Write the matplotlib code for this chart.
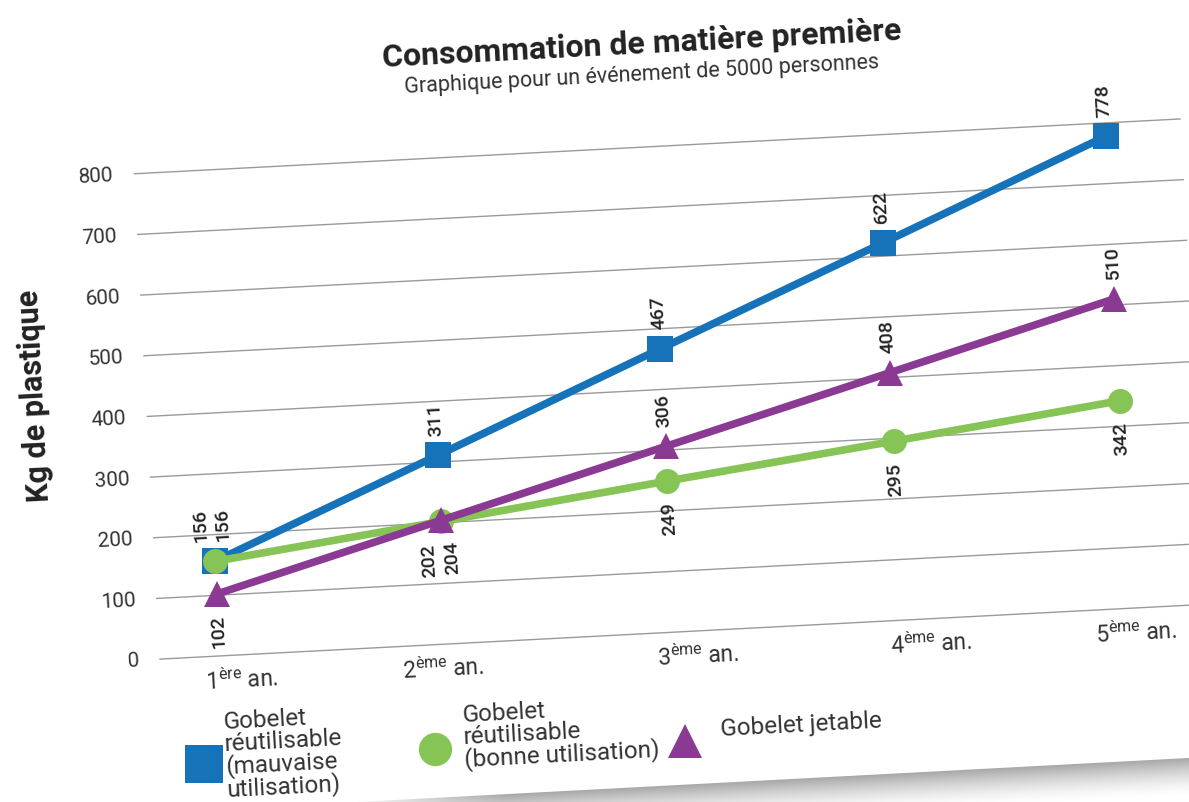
import numpy as np
import matplotlib.pyplot as plt
from matplotlib.transforms import Affine2D

plt.rcParams['font.family'] = ['Roboto', 'DejaVu Sans']

# donnees
annees = ['1', '2', '3', '4', '5']
exposants = ['ère', 'ème', 'ème', 'ème', 'ème']
mauvaise = [156, 311, 467, 622, 778]
bonne = [156, 202, 249, 295, 342]
jetable = [102, 204, 306, 408, 510]
graduations = [0, 100, 200, 300, 400, 500, 600, 700, 800]
noms = ['Gobelet\nréutilisable\n(mauvaise\nutilisation)',
        'Gobelet\nréutilisable\n(bonne utilisation)',
        'Gobelet jetable']

bleu = '#1673ba'
vert = '#86c456'
violet = '#8b3a93'
texte = '#333333'

W, H = 1189, 803
fig = plt.figure(figsize=(W / 100, H / 100), dpi=100)
fig.patch.set_facecolor('white')

# tout le graphique est legerement tourne (photo de page)
ANG = 3
rot = Affine2D().rotate_deg_around(W / 2, H / 2, ANG)

x0, x1 = 147, 1194
ax = fig.add_axes([x0 / W, 166 / H, (x1 - x0) / W, 486 / H])
ax.axis('off')
tr = ax.transData + rot
xmin = (x0 - 207) / 228
xmax = (x1 - 207) / 228


def decal(dx, dy):
    return ax.transData + Affine2D().translate(dx, dy) + rot


# grille
for g in graduations:
    ax.plot([xmin, xmax], [g, g], color='#9a9a9a', lw=1, transform=tr, clip_on=False, zorder=1)
    ax.text(xmin, g, str(g), transform=decal(-21, 0), ha='right', va='center',
            rotation=ANG, rotation_mode='anchor', fontsize=15, fontweight='normal', color=texte)

xs = np.arange(len(annees))
for i, (a, e) in enumerate(zip(annees, exposants)):
    dx = [-16, -46, -19, -14, -36][i]
    ax.text(i, 0, a + r'$^{\mathregular{' + e + '}}$ an.', transform=decal(dx, -24),
            ha='left', va='center', rotation=ANG, rotation_mode='anchor',
            fontsize=16.5, fontweight='normal', color=texte)

series = [
    (mauvaise, bleu, 's', 19, ['h', 'h', 'h', 'h', 'h'], [-12, 0, 0, 0, 0], 2),
    (bonne, vert, 'o', 18, ['h', 'b', 'b', 'b', 'b'], [10, -14, 0, 0, 0], 3),
    (jetable, violet, '^', 19, ['b', 'b', 'h', 'h', 'h'], [0, 9, 0, 0, 0], 4),
]
for vals, c, m, ms, cotes, dxs, z in series:
    ax.plot(xs, vals, color=c, lw=5.5, marker=m, markersize=ms, markeredgewidth=0,
            transform=tr, clip_on=False, zorder=z)
    for i, v in enumerate(vals):
        dy = 37 if cotes[i] == 'h' else -37
        ax.text(i, v, str(v), transform=decal(dxs[i], dy), ha='center', va='center',
                rotation=90 + ANG, rotation_mode='anchor', fontsize=14,
                fontweight='medium', color='#222222', zorder=6)

# titres
fig.text(660, 756, 'Consommation de matière première', transform=rot, ha='center', va='center',
         rotation=ANG, rotation_mode='anchor', fontsize=23, fontweight='bold', color='#222222')
fig.text(659, 725, 'Graphique pour un événement de 5000 personnes', transform=rot, ha='center',
         va='center', rotation=ANG, rotation_mode='anchor', fontsize=15.5, fontweight='normal',
         color=texte)
fig.text(36, 437, 'Kg de plastique', transform=rot, ha='center', va='center',
         rotation=90 + ANG, rotation_mode='anchor', fontsize=22, fontweight='bold', color='#222222')

# legende
symb = [('s', bleu, 27, 186, 59, 207, 66),
        ('o', vert, 24, 417, 62, 446, 72),
        ('^', violet, 25, 667, 57, 703, 67)]
for (m, c, ms, mx, my, tx, ty), nom in zip(symb, noms):
    ax.plot([mx], [my], marker=m, color=c, markersize=ms, markeredgewidth=0,
            linestyle='none', transform=rot, clip_on=False)
    ax.text(tx, ty, nom, transform=rot, ha='left', va='center', rotation=ANG,
            rotation_mode='anchor', fontsize=17.5, fontweight='normal', color=texte,
            linespacing=0.92)

# ombre de la page
ny, nx = 40, 200
gy = np.linspace(1, 0, ny)[:, None] ** 1.6
gx = np.clip(np.linspace(0, 1, nx)[None, :] * 6, 0, 1)
img = np.ones((ny, nx, 4))
img[..., :3] = 0.66
img[..., 3] = gy * gx
ax.imshow(img, extent=(320, 1300, -25, 13), transform=rot, aspect='auto',
          interpolation='bilinear', clip_on=False, zorder=0)
ax.set_xlim(xmin, xmax)
ax.set_ylim(0, 800)

fig.savefig('out.png', dpi=100)
